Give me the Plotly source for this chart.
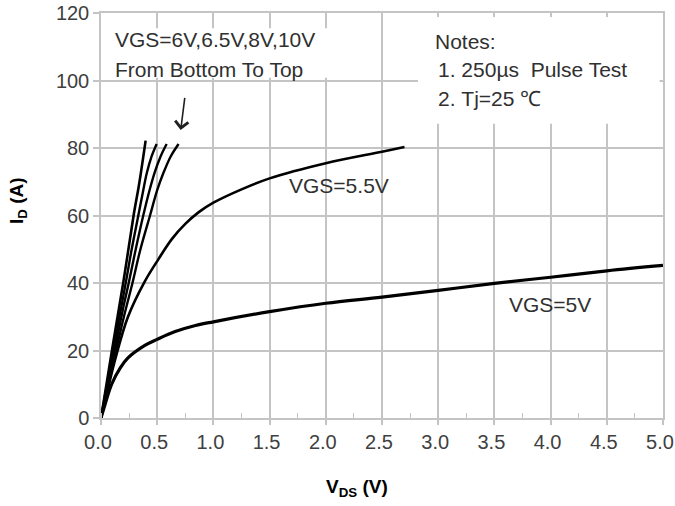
import plotly.graph_objects as go

# ---- data ----
v_5 = [0, 0.036, 0.095, 0.17, 0.24, 0.39, 0.5, 0.66, 0.84, 1.0, 1.5, 2.0, 2.5, 3.0, 3.5, 4.0, 4.5, 5.0]
i_5 = [0, 4.0, 10.0, 14.8, 17.8, 21.5, 23.3, 25.6, 27.4, 28.5, 31.5, 34.0, 35.8, 37.8, 39.9, 41.7, 43.6, 45.2]

v_55 = [0, 0.05, 0.125, 0.24, 0.39, 0.51, 0.63, 0.75, 0.87, 1.0, 1.24, 1.5, 2.0, 2.5, 2.7]
i_55 = [0, 7, 17.2, 30, 40.5, 47, 53, 57.5, 61, 63.8, 67.6, 71.0, 75.5, 78.9, 80.3]

v_6 = [0, 0.1, 0.2, 0.28, 0.347, 0.436, 0.5, 0.554, 0.62, 0.69]
i_6 = [0, 15, 29.5, 40, 49.5, 60, 67.5, 72.5, 77.5, 81.2]

v_65 = [0, 0.1, 0.2, 0.25, 0.309, 0.376, 0.436, 0.48, 0.53, 0.584]
i_65 = [0, 16.5, 33, 40.5, 50, 60, 68, 73, 77.5, 81.2]

v_8 = [0, 0.1, 0.22, 0.273, 0.332, 0.376, 0.407, 0.45, 0.495]
i_8 = [0, 18.5, 40, 50, 60, 67.5, 72.5, 77.5, 81.2]

v_10 = [0, 0.1, 0.2, 0.29, 0.34, 0.397]
i_10 = [0, 20.5, 40.5, 60, 69.5, 82.2]

x_ticks = [0, 0.5, 1.0, 1.5, 2.0, 2.5, 3.0, 3.5, 4.0, 4.5, 5.0]
x_tick_labels = ["0.0", "0.5", "1.0", "1.5", "2.0", "2.5", "3.0", "3.5", "4.0", "4.5", "5.0"]
y_ticks = [0, 20, 40, 60, 80, 100, 120]

FONT = "Liberation Sans, Arial, sans-serif"
GRID = "#c4c4c4"

fig = go.Figure()
series = [
    (v_5, i_5, 3.2),
    (v_55, i_55, 2.6),
    (v_6, i_6, 2.4),
    (v_65, i_65, 2.4),
    (v_8, i_8, 2.4),
    (v_10, i_10, 2.6),
]
for vx, iy, w in series:
    fig.add_trace(go.Scatter(x=vx, y=iy, mode="lines",
                             line=dict(color="black", width=w, shape="spline", smoothing=1.0),
                             showlegend=False, hoverinfo="skip"))

# white boxes behind the text blocks (cover gridlines)
fig.add_shape(type="rect", xref="x", yref="y", x0=2.82, x1=4.97, y0=87.2, y1=118.8,
              fillcolor="white", line=dict(width=0), layer="between")
fig.add_shape(type="rect", xref="x", yref="y", x0=0.06, x1=2.04, y0=100.8, y1=115.5,
              fillcolor="white", line=dict(width=0), layer="between")

txt_color = "#303030"


def label(x, y, text):
    fig.add_annotation(x=x, y=y, xref="x", yref="y", xanchor="left", yanchor="middle",
                       align="left", showarrow=False, text=text,
                       font=dict(family=FONT, size=21, color=txt_color))


label(0.107, 112.2, "VGS=6V,6.5V,8V,10V")
label(0.107, 103.4, "From Bottom To Top")
label(2.951, 111.6, "Notes:")
label(2.98, 103.3, "1.\u00a0250\u00b5s\u00a0\u00a0Pulse Test")
label(2.98, 94.6, "2.\u00a0Tj=25\u00a0\u2103")
label(1.655, 69.0, "VGS=5.5V")
label(3.61, 33.6, "VGS=5V")

# arrow
fig.add_annotation(x=0.709, y=85.3, ax=0.747, ay=95.3, xref="x", yref="y",
                   axref="x", ayref="y", text="", showarrow=True,
                   arrowhead=4, arrowsize=1.6, arrowwidth=1.6, arrowcolor="#202020")

# axis titles
fig.add_annotation(x=-0.148, y=0.538, xref="paper", yref="paper", showarrow=False,
                   xanchor="center", yanchor="middle",
                   textangle=-90, text="<b>I<sub>D</sub> (A)</b>",
                   font=dict(family=FONT, size=19, color="black"))
fig.add_annotation(x=0.4555, y=-0.173, xref="paper", yref="paper", showarrow=False,
                   xanchor="center", yanchor="middle",
                   text="<b>V<sub>DS</sub> (V)</b>",
                   font=dict(family=FONT, size=19, color="black"))

fig.update_xaxes(range=[0, 5], tickvals=x_ticks, ticktext=x_tick_labels,
                 showgrid=True, gridcolor=GRID, gridwidth=1.5,
                 showline=True, linecolor=GRID, linewidth=1.5, mirror=True,
                 ticks="outside", ticklen=5, tickcolor=GRID, tickwidth=1.5,
                 minor=dict(dtick=0.25, ticks="inside", ticklen=5, tickcolor=GRID,
                            tickwidth=1.2, showgrid=False),
                 tickfont=dict(family=FONT, size=20, color="#404040"),
                 ticklabelshift=-3, ticklabeloverflow="allow",
                 zeroline=False, fixedrange=True, automargin=False)
fig.update_yaxes(range=[0, 120], tickvals=y_ticks,
                 showgrid=True, gridcolor=GRID, gridwidth=1.5,
                 showline=True, linecolor=GRID, linewidth=1.5, mirror=True,
                 ticks="outside", ticklen=6, tickcolor=GRID, tickwidth=1.5,
                 tickfont=dict(family=FONT, size=20, color="#404040"),
                 ticklabeloverflow="allow",
                 zeroline=False, fixedrange=True, automargin=False)

fig.update_layout(width=675, height=506,
                  margin=dict(l=101, r=12, t=13, b=88, autoexpand=False),
                  paper_bgcolor="white", plot_bgcolor="white",
                  font=dict(family=FONT))

fig.write_html("out.html", config={"displayModeBar": False},
               post_script="document.body.style.margin='0px';document.body.style.overflow='hidden';")
